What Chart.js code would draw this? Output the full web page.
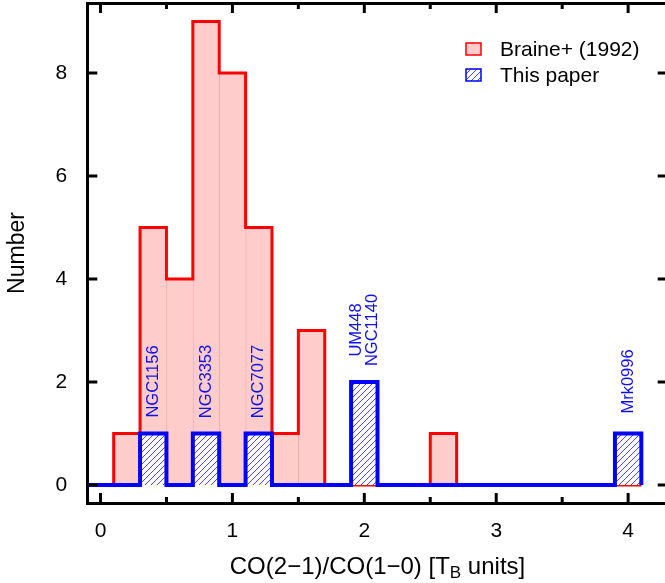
<!DOCTYPE html>
<html>
<head>
<meta charset="utf-8">
<script src="https://cdn.jsdelivr.net/npm/chart.js@4.4.0/dist/chart.umd.min.js"></script>
<style>
html,body{margin:0;padding:0;overflow:hidden;background:#fff;width:665px;height:583px}
canvas{display:block}
</style>
</head>
<body>
<canvas id="c" width="672" height="583" style="width:672px;height:583px"></canvas>
<script>
// ---- data ----
const binLefts = [0.1,0.3,0.5,0.7,0.9,1.1,1.3,1.5,1.7,1.9,2.1,2.3,2.5,2.7,2.9,3.1,3.3,3.5,3.7,3.9];
const binWidth = 0.2;
const braineCounts    = [1,5,4,9,8,5,1,3,0,0,0,0,1,0,0,0,0,0,0,0];
const thisPaperCounts = [0,1,0,1,0,1,0,0,0,2,0,0,0,0,0,0,0,0,0,1];
const seriesLabels = ['Braine+ (1992)', 'This paper'];
const galaxyNames = [['NGC1156'], ['NGC3353'], ['NGC7077'], ['UM448', 'NGC1140'], ['Mrk0996']];
const galaxyBinIndex = [1, 3, 5, 9, 19];
const xMajorTicks = [0, 1, 2, 3, 4];
const xMinorTicks = [0.5, 1.5, 2.5, 3.5];
const yTicks = [0, 2, 4, 6, 8];
const xTitleParts = ['CO(2\u22121)/CO(1\u22120) [T', 'B', ' units]'];
const yTitle = 'Number';

// ---- helpers ----
function stepPoints(lefts, counts, w, startX) {
  const pts = [{x: startX, y: 0}];
  for (let i = 0; i < lefts.length; i++) {
    pts.push({x: lefts[i], y: counts[i]});
    pts.push({x: lefts[i] + w, y: counts[i]});
  }
  pts.push({x: lefts[lefts.length - 1] + w, y: 0});
  return pts;
}
const braineBars = [];
binLefts.forEach((l, i) => { if (braineCounts[i] > 0) braineBars.push({x: l + binWidth / 2, y: braineCounts[i]}); });

const FONT = "'Liberation Sans', Arial, Helvetica, sans-serif";
const PINK = '#ffcccc';
const RED = '#ff0000';
const BLUE = '#0000ff';

// hatch pattern
const P = 6;
const pc = document.createElement('canvas');
pc.width = P; pc.height = P;
const pg = pc.getContext('2d');
pg.fillStyle = '#ffffff'; pg.fillRect(0, 0, P, P);
pg.strokeStyle = '#4a4aff'; pg.lineWidth = 1;
pg.beginPath();
pg.moveTo(0, P); pg.lineTo(P, 0);
pg.moveTo(-1, 1); pg.lineTo(1, -1);
pg.moveTo(P - 1, P + 1); pg.lineTo(P + 1, P - 1);
pg.stroke();
const hatch = pg.createPattern(pc, 'repeat');

const XMIN = -0.1, XMAX = 4.3, YMIN = -0.35, YMAX = 9.36;
const noPad = s => { s.paddingTop = 0; s.paddingBottom = 0; s.paddingLeft = 0; s.paddingRight = 0; };

const tickPlugin = {
  id: 'ticksInside',
  afterDraw(chart) {
    const {ctx, chartArea: a} = chart;
    const xs = chart.scales.x, ys = chart.scales.y;
    ctx.save();
    ctx.strokeStyle = '#000'; ctx.lineWidth = 3; ctx.lineCap = 'butt';
    ctx.beginPath();
    const vx = (v, len) => { const p = xs.getPixelForValue(v); ctx.moveTo(p, a.bottom); ctx.lineTo(p, a.bottom - len); ctx.moveTo(p, a.top); ctx.lineTo(p, a.top + len); };
    xMajorTicks.forEach(v => vx(v, 10));
    xMinorTicks.forEach(v => vx(v, 6));
    yTicks.forEach(v => { const p = ys.getPixelForValue(v); ctx.moveTo(a.left, p); ctx.lineTo(a.left + 10, p); ctx.moveTo(a.right, p); ctx.lineTo(a.right - 10, p); });
    ctx.stroke();
    ctx.restore();
  }
};

const labelPlugin = {
  id: 'galaxyLabels',
  afterDatasetsDraw(chart) {
    const ctx = chart.ctx, xs = chart.scales.x, ys = chart.scales.y;
    ctx.save();
    ctx.fillStyle = '#1010ee';
    ctx.font = '16.5px ' + FONT;
    ctx.textAlign = 'center';
    ctx.textBaseline = 'middle';
    galaxyNames.forEach((names, k) => {
      const i = galaxyBinIndex[k];
      const px = xs.getPixelForValue(binLefts[i] + binWidth / 2);
      const py = ys.getPixelForValue(thisPaperCounts[i]) - 52;
      ctx.save();
      ctx.translate(px, py);
      ctx.rotate(-Math.PI / 2);
      names.forEach((n, j) => ctx.fillText(n, 0, (j - (names.length - 1) / 2) * 16.5));
      ctx.restore();
    });
    ctx.restore();
  }
};

const legendPlugin = {
  id: 'insideLegend',
  afterDraw(chart) {
    const ctx = chart.ctx;
    ctx.save();
    const x0 = 466, y0 = 43, w = 15, h = 12, dy = 26;
    ctx.fillStyle = PINK; ctx.fillRect(x0, y0, w, h);
    ctx.strokeStyle = RED; ctx.lineWidth = 1.5; ctx.strokeRect(x0, y0, w, h);
    ctx.fillStyle = hatch; ctx.fillRect(x0, y0 + dy, w, h);
    ctx.strokeStyle = BLUE; ctx.lineWidth = 1.5; ctx.strokeRect(x0, y0 + dy, w, h);
    ctx.fillStyle = '#000';
    ctx.font = '21px ' + FONT;
    ctx.textAlign = 'left'; ctx.textBaseline = 'middle';
    ctx.fillText(seriesLabels[0], 500, y0 + h / 2 + 1);
    ctx.fillText(seriesLabels[1], 500, y0 + dy + h / 2 + 1);
    ctx.restore();
  }
};

const xTitlePlugin = {
  id: 'xTitle',
  afterDraw(chart) {
    const ctx = chart.ctx, a = chart.chartArea;
    ctx.save();
    ctx.fillStyle = '#000';
    ctx.textBaseline = 'alphabetic';
    ctx.textAlign = 'left';
    const big = '24px ' + FONT, small = '17px ' + FONT;
    ctx.font = big; const w1 = ctx.measureText(xTitleParts[0]).width; const w3 = ctx.measureText(xTitleParts[2]).width;
    ctx.font = small; const w2 = ctx.measureText(xTitleParts[1]).width;
    const cx = (a.left + a.right) / 2;
    let x = cx - (w1 + w2 + w3) / 2;
    const base = 574;
    ctx.font = big; ctx.fillText(xTitleParts[0], x, base); x += w1;
    ctx.font = small; ctx.fillText(xTitleParts[1], x, base + 4); x += w2;
    ctx.font = big; ctx.fillText(xTitleParts[2], x, base);
    ctx.restore();
  }
};

new Chart(document.getElementById('c'), {
  type: 'bar',
  data: {
    datasets: [
      {
        type: 'line', label: seriesLabels[1], order: 1,
        data: stepPoints(binLefts, thisPaperCounts, binWidth, XMIN),
        borderColor: BLUE, borderWidth: 4, backgroundColor: hatch, fill: 'origin',
        pointRadius: 0, tension: 0, borderJoinStyle: 'miter', borderCapStyle: 'butt',
        xAxisID: 'x', yAxisID: 'y'
      },
      {
        type: 'line', label: seriesLabels[0] + ' outline', order: 2,
        data: stepPoints(binLefts, braineCounts, binWidth, binLefts[0]),
        borderColor: RED, borderWidth: 3, fill: false,
        pointRadius: 0, tension: 0, borderJoinStyle: 'miter', borderCapStyle: 'butt',
        xAxisID: 'x', yAxisID: 'y'
      },
      {
        type: 'bar', label: seriesLabels[0], order: 3,
        data: braineBars,
        backgroundColor: PINK, borderColor: '#f4a6a6',
        borderWidth: {left: 1, right: 0, top: 0, bottom: 0}, borderSkipped: false,
        barPercentage: 1, categoryPercentage: 1,
        xAxisID: 'x', yAxisID: 'y'
      }
    ]
  },
  options: {
    responsive: false,
    animation: false,
    devicePixelRatio: 1,
    layout: {autoPadding: false, padding: {top: 3, right: 4.3, left: 0, bottom: 0}},
    plugins: {legend: {display: false}, tooltip: {enabled: false}},
    scales: {
      x: {
        type: 'linear', position: 'bottom', min: XMIN, max: XMAX, offset: false,
        afterBuildTicks: s => { s.ticks = xMajorTicks.map(v => ({value: v})); },
        afterFit: s => { s.height = 80; noPad(s); },
        grid: {display: false, drawTicks: false, offset: false},
        border: {display: true, width: 3, color: '#000'},
        ticks: {color: '#000', font: {family: FONT, size: 21}, padding: 16, maxRotation: 0, autoSkip: false},
        title: {display: false}
      },
      xTop: {
        type: 'linear', position: 'top', min: XMIN, max: XMAX, offset: false,
        afterFit: s => { s.height = 0; noPad(s); },
        grid: {display: false, drawTicks: false, offset: false},
        border: {display: true, width: 3, color: '#000'},
        ticks: {display: false}
      },
      y: {
        type: 'linear', position: 'left', min: YMIN, max: YMAX,
        afterBuildTicks: s => { s.ticks = yTicks.map(v => ({value: v})); },
        afterFit: s => { s.width = 87.3; noPad(s); },
        grid: {display: false, drawTicks: false},
        border: {display: true, width: 3, color: '#000'},
        ticks: {color: '#000', font: {family: FONT, size: 21}, padding: 20, autoSkip: false},
        title: {display: true, text: yTitle, color: '#000', font: {family: FONT, size: 23}, padding: {top: 4, bottom: 0}}
      },
      yRight: {
        type: 'linear', position: 'right', min: YMIN, max: YMAX,
        afterFit: s => { s.width = 0; noPad(s); },
        grid: {display: false, drawTicks: false},
        border: {display: true, width: 3, color: '#000'},
        ticks: {display: false}
      }
    }
  },
  plugins: [labelPlugin, tickPlugin, legendPlugin, xTitlePlugin]
});
</script>
</body>
</html>
